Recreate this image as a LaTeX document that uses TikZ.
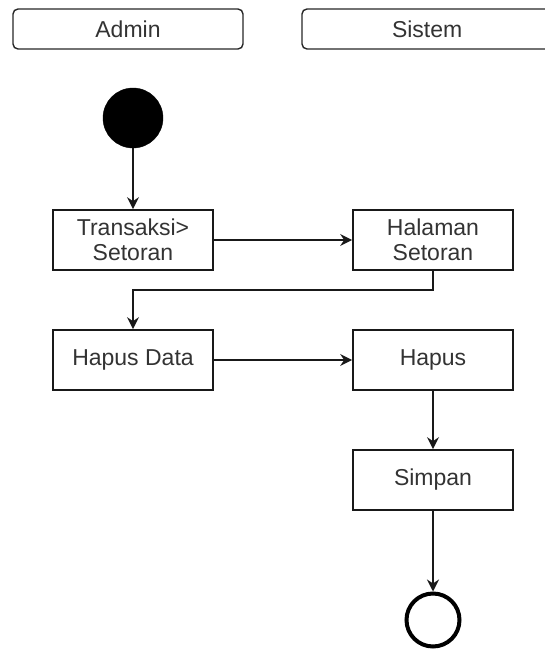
\documentclass[tikz,border=0pt]{standalone}
\usepackage{fontspec}
\setmainfont{Liberation Sans}
\usetikzlibrary{arrows.meta}
\begin{document}
\begin{tikzpicture}[x=1pt,y=-1pt,
  txt/.style={font=\fontsize{23}{25}\selectfont, text=black!80},
  lane/.style={draw=black!85, line width=1.4pt, rounded corners=5pt, minimum height=40pt, inner sep=0pt, txt},
  act/.style={draw=black!90, line width=1.7pt, minimum width=160pt, minimum height=60pt, inner sep=0pt, align=center, txt},
  conn/.style={draw=black!90, line width=1.7pt, -{Stealth[length=12pt,width=12pt,inset=4pt]}}
]
\useasboundingbox (0,0) rectangle (544,651);
\node[lane, minimum width=230pt] (admin) at (128,29) {Admin};
\node[lane, minimum width=250pt, text width=230pt, align=left] (sistem) at (427,29) {\hspace*{80pt}Sistem};
\node[circle, fill=black, draw=black, minimum size=60pt, inner sep=0pt] (start) at (133,118) {};
\node[act] (trans) at (133,240) {Transaksi>\\Setoran};
\node[act] (hal) at (433,240) {Halaman\\Setoran};
\node[act] (hapusdata) at (133,360) {Hapus Data};
\node[act] (hapus) at (433,360) {Hapus};
\node[act] (simpan) at (433,480) {Simpan};
\node[circle, draw=black, line width=4pt, minimum size=53pt, inner sep=0pt] (end) at (433,620) {};
\draw[conn] (start) -- (trans);
\draw[conn] (trans) -- (hal);
\draw[conn] (hal.south) -- ++(0,19) -| (hapusdata.north);
\draw[conn] (hapusdata) -- (hapus);
\draw[conn] (hapus) -- (simpan);
\draw[conn] (simpan) -- (end);
\end{tikzpicture}
\end{document}
